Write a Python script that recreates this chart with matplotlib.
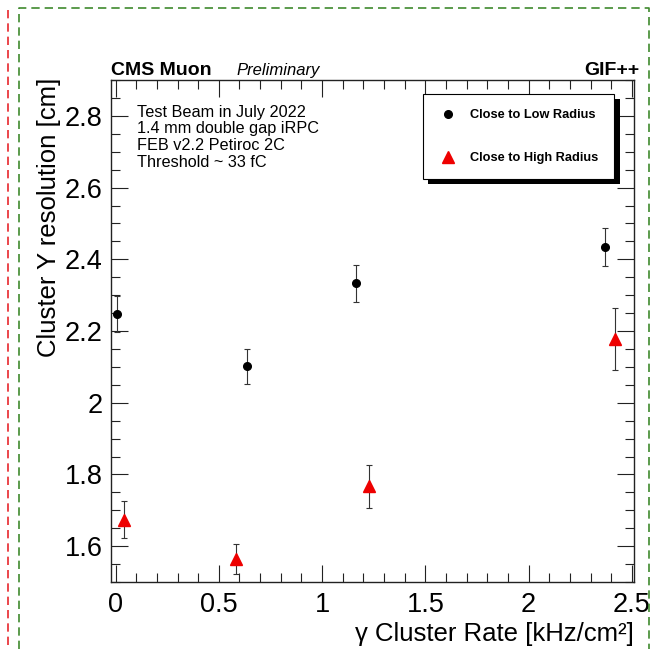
#!/usr/bin/env python3
import matplotlib
matplotlib.use("Agg")
import matplotlib.pyplot as plt
from matplotlib.lines import Line2D
from matplotlib.patches import Rectangle
from matplotlib.ticker import MultipleLocator

plt.rcParams['font.family'] = ['Liberation Sans', 'DejaVu Sans']

# Cluster Y resolution vs gamma cluster rate
low_rate = [0.006, 0.634, 1.165, 2.370]
low_res = [2.247, 2.101, 2.333, 2.434]
low_err = [0.051, 0.050, 0.051, 0.052]

high_rate = [0.040, 0.581, 1.229, 2.418]
high_res = [1.674, 1.563, 1.767, 2.177]
high_err = [0.051, 0.042, 0.060, 0.087]

info_lines = ["Test Beam in July 2022", "1.4 mm double gap iRPC",
              "FEB v2.2 Petiroc 2C", "Threshold ~ 33 fC"]

W, H = 654, 649
fig = plt.figure(figsize=(W / 100, H / 100), dpi=100)


def fx(x):
    return x / W


def fy(y):
    return 1 - y / H


# axes frame in pixels: x 111..634, y 80..582
ax = fig.add_axes([fx(111), fy(582), fx(634) - fx(111), fy(80) - fy(582)])

ax.errorbar(low_rate, low_res, yerr=low_err, fmt='o', color='black',
            markersize=5.5, ecolor='#333333', elinewidth=0.8,
            capsize=2, capthick=0.8, label='Close to Low Radius')
ax.errorbar(high_rate, high_res, yerr=high_err, fmt='^', color='#ee0000',
            markersize=9, ecolor='#333333', elinewidth=0.8,
            capsize=2, capthick=0.8, label='Close to High Radius')

ax.set_xlim(-0.022, 2.51)
ax.set_ylim(1.5, 2.9)
ax.xaxis.set_major_locator(MultipleLocator(0.5))
ax.xaxis.set_minor_locator(MultipleLocator(0.1))
ax.yaxis.set_major_locator(MultipleLocator(0.2))
ax.yaxis.set_minor_locator(MultipleLocator(0.05))
ax.xaxis.set_major_formatter(lambda v, p: f"{v:g}")
ax.yaxis.set_major_formatter(lambda v, p: f"{v:g}")

ax.tick_params(which='both', direction='in', top=True, right=True,
               colors='#222222', labelcolor='black')
ax.tick_params(which='major', length=12.5, width=0.8, labelsize=19.5)
ax.tick_params(axis='x', which='major', pad=7)
ax.tick_params(axis='y', which='major', pad=6)
ax.tick_params(which='minor', length=6.5, width=0.8)
for s in ax.spines.values():
    s.set_linewidth(1.0)
    s.set_color('#222222')

# axis titles
fig.text(fx(49), fy(78), "Cluster Y resolution [cm]", rotation=90,
         ha='center', va='top', fontsize=18.5)
fig.text(fx(634), fy(641), "\u03b3 Cluster Rate [kHz/cm\u00b2]",
         ha='right', va='baseline', fontsize=18.5)

# header
fig.text(fx(111), fy(75), "CMS Muon", fontsize=14, fontweight='bold',
         ha='left', va='baseline')
fig.text(fx(236), fy(75), "Preliminary", fontsize=12, fontstyle='italic',
         ha='left', va='baseline')
fig.text(fx(639), fy(75), "GIF++", fontsize=14, fontweight='bold',
         ha='right', va='baseline')

# info block
for i, line in enumerate(info_lines):
    fig.text(fx(137), fy(116.7 + i * 16.7), line, fontsize=11.7,
             ha='left', va='baseline')

# legend with a solid drop shadow
handles = [Line2D([], [], marker='o', color='black', linestyle='none', markersize=5.5),
           Line2D([], [], marker='^', color='#ee0000', linestyle='none', markersize=9)]
leg = ax.legend(handles, ['Close to Low Radius', 'Close to High Radius'],
                loc='upper left', bbox_to_anchor=(fx(423), fy(94)),
                bbox_transform=fig.transFigure, fancybox=False,
                prop={'weight': 'bold', 'size': 9.2}, borderpad=1.2,
                labelspacing=2.4, handlelength=1.5, handletextpad=1.0,
                borderaxespad=0, framealpha=1)
leg.get_frame().set_edgecolor('black')
leg.get_frame().set_linewidth(0.8)

fig.canvas.draw()
bb = leg.get_frame().get_window_extent()
shadow = Rectangle((bb.x0 + 5, bb.y0 - 5), bb.width + 1, bb.height,
                   transform=None, facecolor='black', edgecolor='none',
                   zorder=leg.get_zorder() - 0.1, clip_on=False)
ax.add_artist(shadow)

# dashed frame lines around the screenshot
fig.add_artist(Line2D([fx(8), fx(8)], [fy(10), fy(649)], color='#e8262c',
                      linestyle=(0, (5, 3)), linewidth=1.2))
fig.add_artist(Line2D([fx(19), fx(19), fx(649), fx(649)],
                      [fy(649), fy(8), fy(8), fy(649)], color='#3f8a2e',
                      linestyle=(0, (5, 3)), linewidth=1.2))

fig.savefig('out.png', dpi=100)
